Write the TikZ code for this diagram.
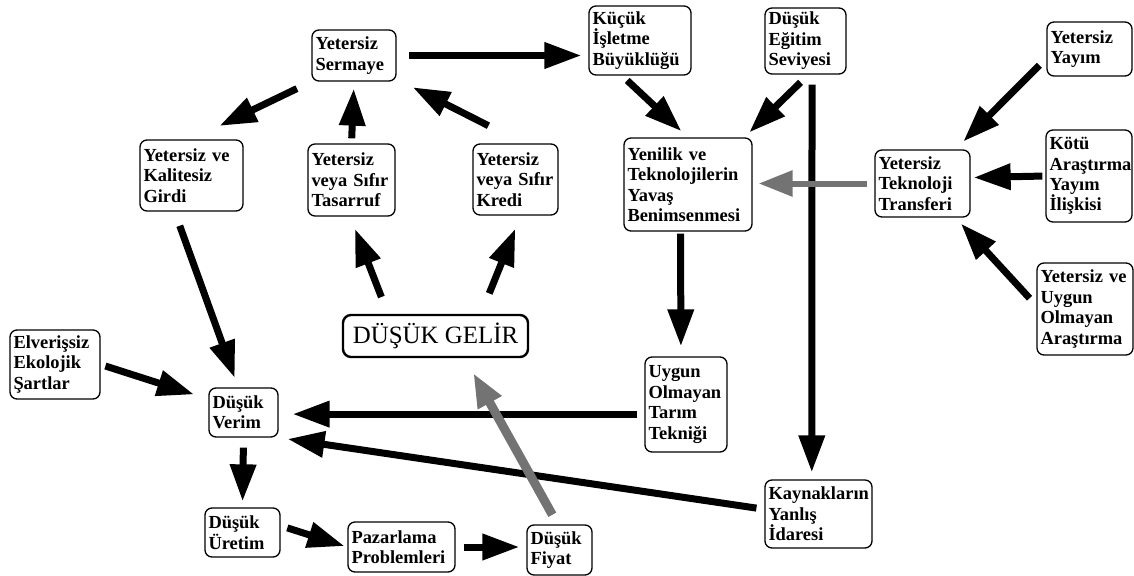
\documentclass[tikz,border=0pt]{standalone}
\usepackage{fontspec}
\setmainfont{Liberation Serif}
\usetikzlibrary{arrows.meta}
\begin{document}
\begin{tikzpicture}[>={Triangle[length=37bp,width=25bp]},line join=bevel,
  box/.style={draw,rounded corners=7bp,line width=1.3bp,align=left,inner xsep=3.5bp,inner ysep=2bp,
    font=\fontsize{18.5}{20.5}\selectfont\bfseries},
  arr/.style={black,line width=7bp,->},
  garr/.style={draw=black!55,line width=6bp,-{Triangle[length=34bp,width=25bp]}},
]
\useasboundingbox (0bp,0bp) rectangle (1134bp,-576bp);
%%
\node (node_0) at (354bp,-55.5bp) [box,text width=77bp,minimum height=51bp] {Yetersiz\\Sermaye};
  \node (node_1) at (640bp,-40.5bp) [box,text width=95bp,minimum height=69bp] {Küçük\\İşletme\\Büyüklüğü};
  \node (node_2) at (805.5bp,-41bp) [box,text width=74bp,minimum height=66bp] {Düşük\\Eğitim\\Seviyesi};
  \node (node_3) at (1089.5bp,-49bp) [box,text width=78bp,minimum height=54bp] {Yetersiz\\Yayım};
  \node (node_4) at (191.5bp,-175.5bp) [box,text width=96bp,minimum height=71bp] {Yetersiz ve\\Kalitesiz\\Girdi};
  \node (node_5) at (351.5bp,-180bp) [box,text width=80bp,minimum height=72bp] {Yetersiz\\veya Sıfır\\Tasarruf};
  \node (node_6) at (515.5bp,-179.5bp) [box,text width=78bp,minimum height=71bp] {Yetersiz\\veya Sıfır\\Kredi};
  \node (node_7) at (688bp,-184.5bp) [box,text width=121bp,minimum height=93bp] {Yenilik ve\\Teknolojilerin\\Yavaş\\Benimsenmesi};
  \node (node_8) at (922.5bp,-183.5bp) [box,text width=88bp,minimum height=67bp] {Yetersiz\\Teknoloji\\Transferi};
  \node (node_9) at (1089bp,-176bp) [box,text width=79bp,minimum height=92bp] {Kötü\\Araştırma\\Yayım\\İlişkisi};
  \node (node_10) at (1085bp,-309bp) [box,text width=89bp,minimum height=92bp] {Yetersiz ve\\Uygun\\Olmayan\\Araştırma};
  \node (node_11) at (435.5bp,-336bp) [draw,rounded corners=8bp,line width=2.4bp,minimum width=185bp,minimum height=42bp,font=\fontsize{25}{28}\selectfont] {DÜŞÜK GELİR};
  \node (node_12) at (55bp,-364.5bp) [box,text width=83bp,minimum height=69bp] {Elverişsiz\\Ekolojik\\Şartlar};
  \node (node_13) at (243.5bp,-412.5bp) [box,text width=62bp,minimum height=49bp] {Düşük\\Verim};
  \node (node_14) at (686bp,-404.5bp) [box,text width=75bp,minimum height=95bp] {Uygun\\Olmayan\\Tarım\\Tekniği};
  \node (node_15) at (818.5bp,-514bp) [box,text width=100bp,minimum height=68bp] {Kaynakların\\Yanlış\\İdaresi};
  \node (node_16) at (242.5bp,-532.5bp) [box,text width=68bp,minimum height=49bp] {Düşük\\Üretim};
  \node (node_17) at (401.5bp,-547bp) [box,text width=100bp,minimum height=50bp] {Pazarlama\\Problemleri};
  \node (node_18) at (559.5bp,-550bp) [box,text width=58bp,minimum height=50bp] {Düşük\\Fiyat};
%
  \draw [arr,shorten <=16bp,shorten >=31bp] (node_0.south west) -- (node_4.north);
  \draw [arr,shorten <=5bp,shorten >=7bp] (node_5.north) -- (node_0.south);
  \draw [arr,shorten <=39bp,shorten >=18bp] (node_6.78) -- (node_0.331);
  \draw [arr,shorten <=12bp,shorten >=7bp] (node_0.east) -- (node_0.east -| node_1.west);
  \draw [arr,shorten <=7bp,shorten >=9bp] (node_1.243) -- (node_7.north);
  \draw [arr,shorten <=11bp,shorten >=7bp] (node_2.275) -- (node_7.40);
  \draw [arr,shorten <=10bp,shorten >=7bp] (node_2.281) -- (node_15.101);
  \draw [arr,shorten <=10bp,shorten >=11bp] (node_3.192) -- (node_8.46);
  \draw [arr,shorten <=3bp,shorten >=3bp] (node_9.west) -- (node_8.7);
  \draw [arr,shorten <=10bp,shorten >=8bp] (node_10.176) -- (node_8.314);
  \draw [garr,shorten <=7bp,shorten >=6bp] (node_8.west) -- (node_8.west -| node_7.east);
  \draw [arr,shorten <=2bp,shorten >=10bp] (node_7.261) -- (node_14.96);
  \draw [arr,shorten <=18bp,shorten >=13bp] (node_11.155) -- (node_5.268);
  \draw [arr,shorten <=22bp,shorten >=14bp] (node_11.26) -- (node_6.278);
  \draw [arr,shorten <=15bp,shorten >=10bp] (node_4.245) -- (node_13.102);
  \draw [arr,shorten <=5bp,shorten >=15bp] (node_12.east) -- (node_13.159);
  \draw [arr,shorten <=7bp,shorten >=14bp] (node_14.193) -- (node_14.193 -| node_13.east);
  \draw [arr,shorten <=8bp,shorten >=9bp] (node_15.175) -- (node_13.south east);
  \draw [arr,shorten <=10bp,shorten >=6bp] (node_13.south) -- (node_16.north);
  \draw [arr,shorten <=7bp,shorten >=3bp] (node_16.10) -- (node_17.west);
  \draw [arr,shorten <=8bp,shorten >=7bp] (node_17.east) -- (node_17.east -| node_18.west);
  \draw [garr,line width=9bp,shorten <=11bp,shorten >=17bp] (node_18.94) -- (node_11.323);
%
\end{tikzpicture}
\end{document}
